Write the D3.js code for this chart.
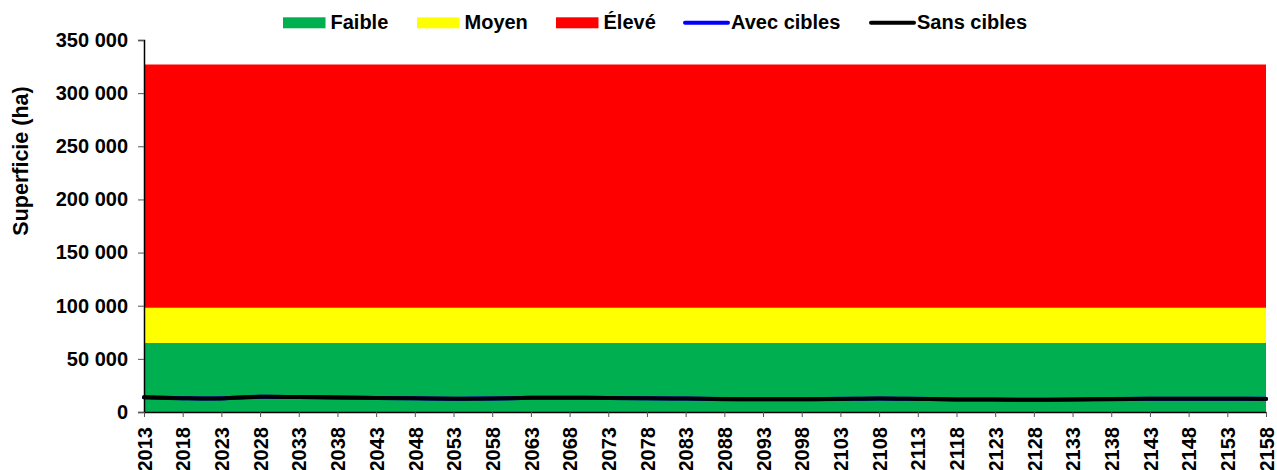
<!DOCTYPE html>
<html>
<head>
<meta charset="utf-8">
<script src="https://cdn.jsdelivr.net/npm/d3@7"></script>
<style>
  body { margin: 0; background: #fff; }
  svg { font-family: "Liberation Sans", Arial, sans-serif; font-weight: bold; }
</style>
</head>
<body>
<svg id="chart" width="1277" height="470"></svg>
<script>
// Data
const years = [2013, 2018, 2023, 2028, 2033, 2038, 2043, 2048, 2053, 2058,
    2063, 2068, 2073, 2078, 2083, 2088, 2093, 2098, 2103, 2108,
    2113, 2118, 2123, 2128, 2133, 2138, 2143, 2148, 2153, 2158];
const avecCibles = [13850, 13050, 12850, 14350, 14050, 13650, 13250, 12900, 12550, 12750,
    13350, 13450, 13250, 12950, 12650, 12150, 12050, 12050, 12350, 12750,
    12350, 11850, 11750, 11550, 11750, 12150, 12550, 12550, 12450, 12350];
const sansCibles = [13800, 13000, 12800, 14300, 14000, 13600, 13200, 12900, 12500, 12700,
    13300, 13400, 13200, 12900, 12600, 12100, 12000, 12000, 12300, 12700,
    12300, 11800, 11700, 11500, 11700, 12100, 12500, 12500, 12400, 12300];
// seuils des zones (ha)
const bandNames = ["Faible", "Moyen", "Élevé"];
const bandTops = [65000, 98000, 327000];
const bandColors = ["#00B050", "#FFFF00", "#FF0000"];
const yTicks = [0, 50000, 100000, 150000, 200000, 250000, 300000, 350000];

const svg = d3.select("#chart");
const margin = {left: 144, right: 11, top: 40, bottom: 58};
const width = 1277, height = 470;

const x = d3.scaleLinear()
    .domain([years[0], years[years.length - 1]])
    .range([margin.left, width - margin.right]);
const y = d3.scaleLinear()
    .domain([0, 350000])
    .range([height - margin.bottom, margin.top]);

const fr = d3.formatLocale({decimal: ",", thousands: "\u00a0", grouping: [3], currency: ["", " €"]});
const fmt = fr.format(",d");

// Bands
const bands = svg.append("g");
bandTops.forEach((top, i) => {
    const bottom = i === 0 ? 0 : bandTops[i - 1];
    const area = d3.area()
        .x(d => x(d))
        .y0(y(bottom))
        .y1(y(top));
    bands.append("path")
        .attr("d", area(years))
        .attr("fill", bandColors[i]);
});

// Lines
const line = d3.line()
    .x((d, i) => x(years[i]))
    .y(d => y(d))
    .curve(d3.curveCatmullRom);

svg.append("path")
    .attr("d", line(avecCibles))
    .attr("fill", "none")
    .attr("stroke", "#0000FF")
    .attr("stroke-width", 4)
    .attr("stroke-linecap", "round");
svg.append("path")
    .attr("d", line(sansCibles))
    .attr("fill", "none")
    .attr("stroke", "#000")
    .attr("stroke-width", 4)
    .attr("stroke-linecap", "round");

// Axes
const yAxis = svg.append("g")
    .attr("transform", `translate(${margin.left},0)`)
    .call(d3.axisLeft(y).tickValues(yTicks).tickFormat(fmt).tickSize(6).tickPadding(10));
yAxis.select(".domain").attr("stroke", "#000").attr("stroke-width", 1.5);
yAxis.selectAll(".tick line").attr("stroke", "#555");
yAxis.selectAll(".tick text")
    .attr("fill", "#000")
    .style("font-size", "20px")
    .style("font-family", "inherit");

const xAxis = svg.append("g")
    .attr("transform", `translate(0,${height - margin.bottom})`)
    .call(d3.axisBottom(x).tickValues(years).tickFormat(d3.format("d")).tickSize(5).tickSizeOuter(0));
xAxis.select(".domain").attr("stroke", "#000").attr("stroke-width", 1.5);
xAxis.selectAll(".tick line").attr("stroke", "#555");
xAxis.selectAll(".tick text")
    .attr("fill", "#000")
    .attr("transform", "rotate(-90)")
    .attr("text-anchor", "end")
    .attr("x", -15)
    .attr("y", 0)
    .attr("dy", "0.36em")
    .style("font-size", "20px")
    .style("font-family", "inherit");

svg.append("text")
    .attr("transform", `translate(28,161) rotate(-90)`)
    .attr("text-anchor", "middle")
    .style("font-size", "21.5px")
    .text("Superficie (ha)");

// Legend
const legendItems = [
    {name: bandNames[0], color: bandColors[0], type: "rect", x: 283},
    {name: bandNames[1], color: bandColors[1], type: "rect", x: 417},
    {name: bandNames[2], color: bandColors[2], type: "rect", x: 556},
    {name: "Avec cibles", color: "#0000FF", type: "line", x: 684},
    {name: "Sans cibles", color: "#000", type: "line", x: 870}
];
const legend = svg.append("g");
legendItems.forEach(item => {
    const g = legend.append("g").attr("transform", `translate(${item.x},0)`);
    if (item.type === "rect") {
        g.append("rect").attr("x", 0).attr("y", 17.3).attr("width", 42.5).attr("height", 11).attr("fill", item.color);
    } else {
        g.append("line").attr("x1", 1).attr("x2", 44).attr("y1", 22.8).attr("y2", 22.8)
            .attr("stroke", item.color).attr("stroke-width", 4).attr("stroke-linecap", "round");
    }
    g.append("text")
        .attr("x", item.type === "rect" ? 47.5 : 47)
        .attr("y", 29.3)
        .style("font-size", "20px")
        .text(item.name);
});
</script>
</body>
</html>
